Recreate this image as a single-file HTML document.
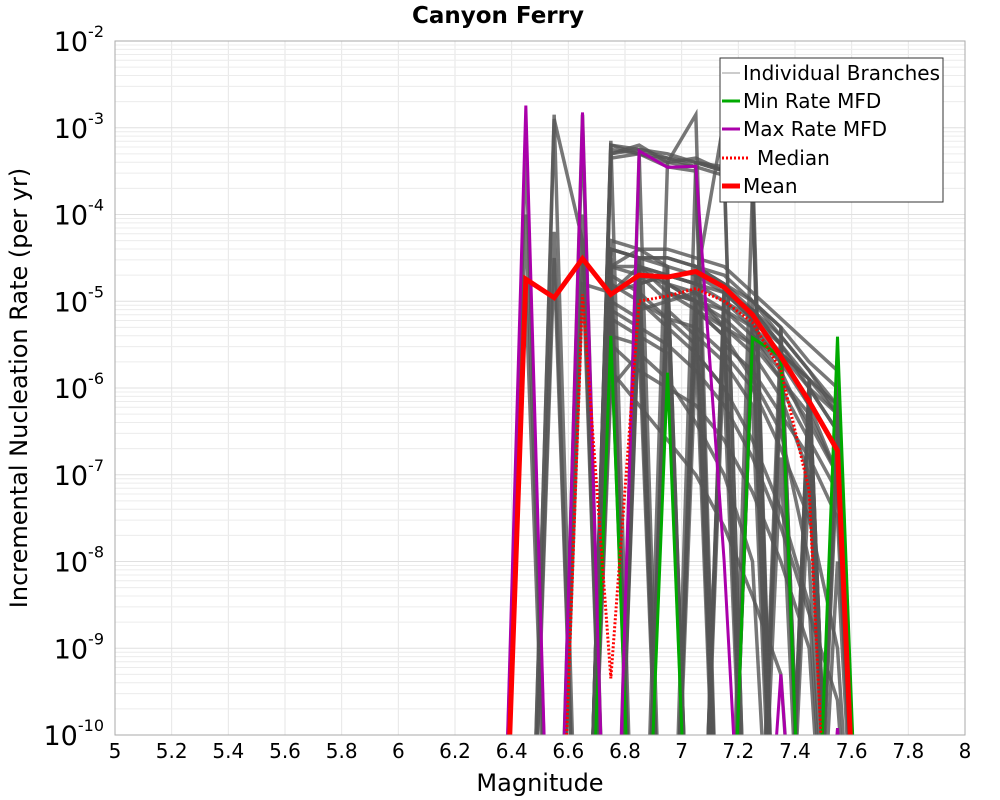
<!DOCTYPE html>
<html><head><meta charset="utf-8"><style>
html,body{margin:0;padding:0;background:#fff;overflow:hidden;width:1000px;height:800px}
svg{display:block}
svg text{font-family:"DejaVu Sans","Liberation Sans",sans-serif}
</style></head><body>
<svg id="c" width="1000" height="800" xmlns="http://www.w3.org/2000/svg">
<rect width="1000" height="800" fill="#fff"/>
<text x="498" y="23" text-anchor="middle" font-size="23" font-weight="bold">Canyon Ferry</text>
<g id="grid"></g>
<defs><clipPath id="pc"><rect x="115" y="41" width="850" height="694"/></clipPath></defs>
<g id="branches" clip-path="url(#pc)"></g>
<g id="series" clip-path="url(#pc)"></g>
<rect x="115" y="41" width="850" height="694" fill="none" stroke="#aaa"/>
<g id="ticks"></g>
<text x="540" y="791" text-anchor="middle" font-size="24">Magnitude</text>
<text transform="translate(27,388) rotate(-90)" text-anchor="middle" font-size="24">Incremental Nucleation Rate (per yr)</text>
<g>
<rect x="720" y="58" width="223" height="144" fill="#fff" stroke="#333"/>
<g><line x1="722" y1="73" x2="740" y2="73" stroke="#999" stroke-width="1"/><text x="743" y="80" font-size="20">Individual Branches</text></g>
<g><line x1="722" y1="101" x2="740" y2="101" stroke="#00aa00" stroke-width="3"/><text x="743" y="108" font-size="20">Min Rate MFD</text></g>
<g><line x1="722" y1="129" x2="740" y2="129" stroke="#aa00aa" stroke-width="3"/><text x="743" y="136" font-size="20">Max Rate MFD</text></g>
<g><line x1="722" y1="158" x2="750" y2="158" stroke="#f00" stroke-width="3" stroke-dasharray="2,2"/><text x="757" y="165" font-size="20">Median</text></g>
<g><line x1="722" y1="186" x2="740" y2="186" stroke="#f00" stroke-width="5"/><text x="743" y="193" font-size="20">Mean</text></g>
</g>
</svg>
<script>
const mags=[6.35,6.45,6.55,6.65,6.75,6.85,6.95,7.05,7.15,7.25,7.35,7.45,7.55,7.65];
const xTicks=[5,5.2,5.4,5.6,5.8,6,6.2,6.4,6.6,6.8,7,7.2,7.4,7.6,7.8,8];
const xTickLabels=["5","5.2","5.4","5.6","5.8","6","6.2","6.4","6.6","6.8","7","7.2","7.4","7.6","7.8","8"];
const yExps=[-2,-3,-4,-5,-6,-7,-8,-9,-10];
const meanVals=[0,1.8e-5,1.1e-5,3.1e-5,1.2e-5,2e-5,1.9e-5,2.2e-5,1.45e-5,7e-6,2.3e-6,7e-7,1.9e-7,0];
const medianVals=[0,0,0,1.2e-5,4.5e-10,1e-5,1.15e-5,1.4e-5,1e-5,5.7e-6,1.6e-6,6.6e-8,0,0];
const maxVals=[0,1.8e-3,0,1.5e-3,0,5.4e-4,3.5e-4,3.6e-4,1e-8,0,5e-10,0,1.2e-10,0];
const minVals=[0,0,0,0,4e-6,0,1.5e-6,0,0,3.8e-6,2.3e-6,0,3.9e-6,0];
// branch log10 rates for M 6.45..7.55 (-14 = zero rate)
const b1=[-14,-14,-14,-3.2,-3.25,-3.35,-3.4,-3.45,-14,-14,-14,-14];
const b2=[-14,-14,-14,-3.3,-3.2,-3.4,-3.45,-3.55,-3.7,-14,-14,-14];
const b3=[-14,-14,-14,-3.35,-3.3,-3.45,-3.5,-14,-14,-14,-14,-14];
const b4=[-4,-14,-2.85,-14,-3.3,-3.4,-3.35,-3.5,-3.7,-14,-14,-14];
const b5=[-14,-2.85,-14,-3.15,-14,-3.4,-2.85,-14,-14,-14,-14,-14];
const b6=[-14,-14,-14,-4.4,-4.5,-4.5,-4.6,-4.7,-5,-5.3,-5.7,-6];
const b7=[-14,-14,-14,-4.6,-4.4,-4.6,-4.7,-4.9,-5.1,-5.5,-6,-6.5];
const b8=[-4.9,-14,-4.5,-14,-4.8,-4.7,-4.8,-5,-5.2,-5.6,-6.2,-7];
const b9=[-14,-4.2,-14,-4.9,-4.6,-4.9,-5,-5.1,-5.4,-5.8,-6.5,-14];
const b10=[-14,-14,-4.0,-14,-4.7,-5,-4.9,-5.3,-5.6,-6.1,-7,-14];
const b11=[-14,-14,-14,-5,-5.2,-14,-5.1,-5.4,-5.9,-6.5,-8,-14];
const b12=[-14,-14,-14,-4.8,-5,-5.2,-5.3,-5.6,-6,-6.7,-7.5,-9];
const b13=[-14,-14,-14,-5.3,-14,-5.1,-5.4,-5.7,-6.2,-14,-7,-14];
const b14=[-14,-14,-14,-5.2,-5.4,-5.6,-14,-5.5,-5.8,-6.3,-6.8,-7.5];
const b15=[-14,-14,-14,-14,-4.9,-5.2,-5.5,-14,-5.4,-5.9,-6.4,-7];
const b16=[-14,-14,-14,-4.7,-4.9,-14,-5,-5.3,-14,-5.6,-6,-6.3];
const b17=[-14,-14,-14,-5.5,-5.8,-6,-6.2,-6.6,-7.2,-8,-9,-14];
const b18=[-14,-14,-14,-6,-5.6,-5.9,-6.4,-7,-8,-14,-14,-14];
const b19=[-3.2,-14,-3.0,-14,-5.0,-5.3,-5.6,-6,-6.6,-7.4,-8.5,-14];
const b20=[-14,-14,-14,-4.5,-14,-4.8,-5,-5.2,-5.5,-5.9,-14,-14];
const b21=[-14,-14,-14,-4.9,-4.8,-4.7,-14,-4.9,-5.1,-5.4,-5.8,-6.2];
const b22=[-14,-14,-14,-14,-4.6,-4.8,-4.9,-5.1,-5.3,-5.6,-5.9,-6.3];
const b23=[-14,-14,-14,-5.1,-5.3,-5.5,-5.8,-6.2,-6.8,-7.6,-8.6,-9.6];
const b24=[-14,-14,-14,-5.8,-6.2,-6.6,-7,-7.6,-8.4,-9.3,-14,-14];
const b25=[-14,-14,-14,-4.3,-4.4,-4.4,-4.5,-4.6,-4.9,-5.2,-5.5,-5.8];
const b26=[-14,-14,-14,-4.4,-4.5,-4.6,-14,-14,-5.0,-5.4,-5.8,-6.3];
const b27=[-14,-14,-14,-14,-4.6,-4.7,-4.8,-2.9,-3.4,-14,-5.9,-14];
const b28=[-14,-2.9,-4.3,-14,-4.5,-14,-4.6,-4.8,-5.0,-5.3,-14,-6.6];
const b29=[-14,-14,-14,-4.5,-14,-4.6,-14,-4.8,-14,-5.3,-14,-6.2];
const b30=[-14,-14,-14,-14,-4.5,-14,-4.7,-14,-5.1,-14,-5.9,-14];
const b31=[-14,-14,-14,-4.6,-4.7,-14,-14,-4.9,-5.2,-14,-6,-6.5];
const b32=[-14,-14,-14,-5,-14,-4.9,-5,-14,-5.4,-5.7,-14,-6.8];
const b33=[-14,-14,-14,-14,-5.1,-5,-14,-5.2,-14,-5.9,-6.3,-7];
const b34=[-14,-14,-14,-4.4,-4.5,-4.5,-4.6,-4.8,-5.1,-5.5,-14,-5.9];
const b35=[-14,-14,-14,-4.8,-14,-14,-5.1,-5.3,-5.5,-14,-6.4,-14];
const b36=[-14,-14,-14,-14,-14,-4.8,-5,-14,-5.4,-5.6,-5.9,-14];
const b37=[-14,-14,-14,-5.4,-5.5,-14,-5.6,-6,-14,-6.8,-14,-8];
const b38=[-14,-14,-14,-4.6,-4.6,-4.7,-4.8,-4.9,-5.2,-5.5,-5.9,-6.2];
const b39=[-14,-4.5,-14,-14,-4.7,-4.8,-14,-5,-5.3,-5.7,-6.2,-14];
const b40=[-14,-14,-4.8,-4.9,-14,-4.9,-5.1,-5.4,-14,-6,-6.6,-7.2];
const b41=[-14,-14,-14,-3.25,-3.3,-3.35,-3.45,-14,-3.7,-14,-14,-14];
const b42=[-14,-14,-14,-3.3,-3.25,-3.3,-3.4,-3.5,-14,-14,-14,-14];
const b43=[-14,-14,-14,-3.2,-3.3,-14,-3.4,-3.5,-3.8,-14,-14,-14];
const branches=[b1,b2,b3,b4,b5,b6,b7,b8,b9,b10,b11,b12,b13,b14,b15,b16,b17,b18,b19,b20,b21,b22,b23,b24,b25,b26,b27,b28,b29,b30,b31,b32,b33,b34,b35,b36,b37,b38,b39,b40,b41,b42,b43];

const NS="http://www.w3.org/2000/svg";
const X=m=>115+(m-5)/3*850;
const YL=l=>41+(-2-l)*(694/8);
const Y=v=>YL(v>0?Math.log10(v):-14);
function mk(t,a,p){const e=document.createElementNS(NS,t);for(const k in a)e.setAttribute(k,a[k]);p.appendChild(e);return e;}
const grid=document.getElementById('grid');
for(const t of xTicks){const g=mk('line',{x1:X(t),x2:X(t),y1:41,y2:735,stroke:'#e6e6e6'},grid);

}
for(let e=-10;e<-2;e++)for(let k=1;k<10;k++){const l=e+Math.log10(k);const g=mk('line',{x1:115,x2:965,y1:YL(l),y2:YL(l),stroke:k==1?'#e0e0e0':'#ececec'},grid);

}
const ticks=document.getElementById('ticks');
xTicks.forEach((t,i)=>{const tx=mk('text',{x:X(t),y:758,'text-anchor':'middle','font-size':20},ticks);tx.textContent=xTickLabels[i];

});
yExps.forEach(e=>{const tx=mk('text',{x:104,y:YL(e)+10,'text-anchor':'end','font-size':27},ticks);


tx.textContent='10';const s=mk('tspan',{'font-size':16,dy:-14},tx);s.textContent=String(e);});
const pts=vals=>vals.map((v,i)=>X(mags[i])+','+Y(v)).join(' ');
const bg=document.getElementById('branches');
branches.forEach(b=>{const full=[-14,...b,-14];const p=mk('polyline',{points:full.map((l,i)=>X(mags[i])+','+YL(l)).join(' '),fill:'none',stroke:'#555','stroke-width':3.5,'stroke-opacity':0.8},bg);

});
const sg=document.getElementById('series');
const s1=mk('polyline',{points:pts(minVals),fill:'none',stroke:'#00aa00','stroke-width':3},sg);


const s2=mk('polyline',{points:pts(maxVals),fill:'none',stroke:'#aa00aa','stroke-width':3},sg);


const s3=mk('polyline',{points:pts(medianVals),fill:'none',stroke:'#f00','stroke-width':3,'stroke-dasharray':'2,2'},sg);


const s4=mk('polyline',{points:pts(meanVals),fill:'none',stroke:'#f00','stroke-width':5},sg);


</script>
</body></html>
